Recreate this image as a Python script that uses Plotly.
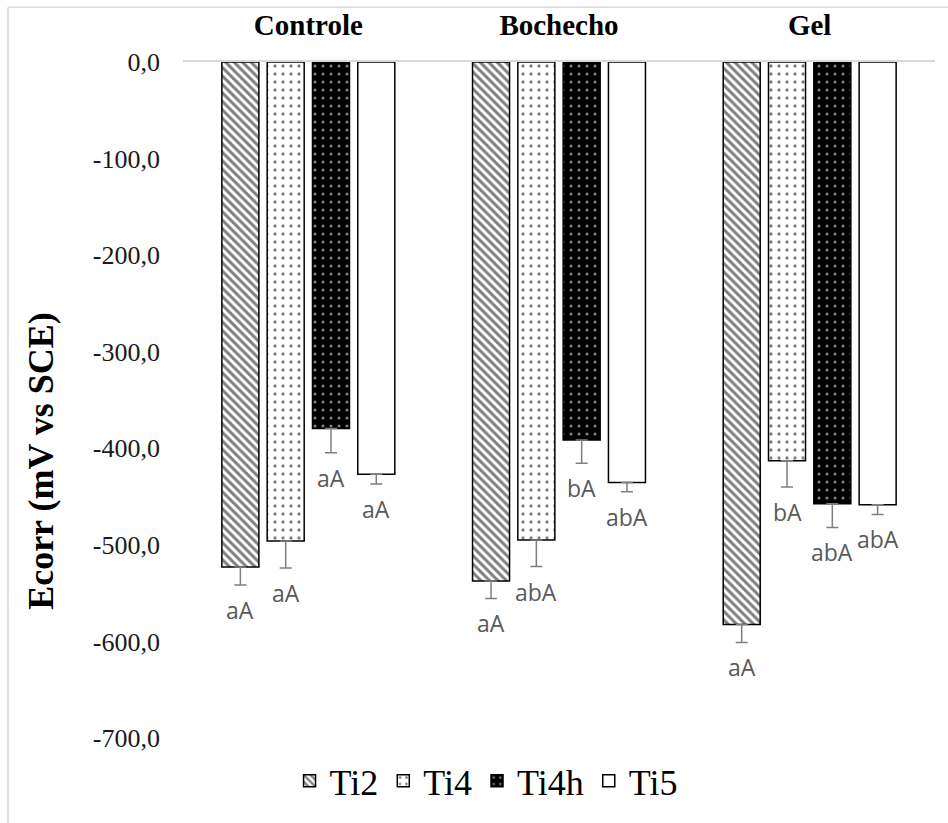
import plotly.graph_objects as go

# Treatments (category axis) and materials (series)
groups = ["Controle", "Bochecho", "Gel"]
series = ["Ti2", "Ti4", "Ti4h", "Ti5"]

# Corrosion potential Ecorr (mV vs SCE), one list per material across groups
ecorr = {
    "Ti2": [-523.0, -537.5, -582.5],
    "Ti4": [-496.0, -495.0, -413.0],
    "Ti4h": [-379.5, -391.5, -457.5],
    "Ti5": [-427.0, -435.5, -458.5],
}
# Standard deviation (drawn downward only)
ecorr_sd = {
    "Ti2": [18.5, 18.0, 18.5],
    "Ti4": [28.0, 27.5, 27.0],
    "Ti4h": [25.0, 24.0, 24.5],
    "Ti5": [10.0, 9.5, 10.0],
}
# Statistical letters
letters = {
    "Ti2": ["aA", "aA", "aA"],
    "Ti4": ["aA", "abA", "bA"],
    "Ti4h": ["aA", "bA", "abA"],
    "Ti5": ["aA", "abA", "abA"],
}

ytick_vals = [0, -100, -200, -300, -400, -500, -600, -700]
ytick_text = ["0,0", "-100,0", "-200,0", "-300,0", "-400,0", "-500,0", "-600,0", "-700,0"]

SERIF = "Liberation Serif"

# Fill styles per material
patterns = {
    "Ti2": dict(color="white", pattern=dict(shape="\\", fgcolor="black", bgcolor="white", size=6, solidity=0.5)),
    "Ti4": dict(color="white", pattern=dict(shape=".", fgcolor="black", bgcolor="white", size=8, solidity=0.13)),
    "Ti4h": dict(color="black", pattern=dict(shape=".", fgcolor="white", bgcolor="black", size=8, solidity=0.12)),
    "Ti5": dict(color="white", pattern=dict(shape="")),
}

BARGAP = 0.277
GROUPGAP = 0.183

fig = go.Figure()
for s in series:
    fig.add_trace(go.Bar(
        name=s,
        x=groups,
        y=ecorr[s],
        marker=dict(line=dict(color="black", width=1.5), **patterns[s]),
        error_y=dict(
            type="data", symmetric=False,
            array=[0] * len(groups), arrayminus=ecorr_sd[s],
            color="#7f7f7f", thickness=1.5, width=6,
        ),
    ))

# Letters placed under each error bar
slot = (1 - BARGAP) / len(series)
annotations = []
for i, s in enumerate(series):
    off = (i - (len(series) - 1) / 2) * slot
    for g in range(len(groups)):
        annotations.append(dict(
            x=g + off, y=ecorr[s][g] - ecorr_sd[s][g],
            xref="x", yref="y", text=letters[s][g], showarrow=False,
            yanchor="top", yshift=-7,
            font=dict(family="Open Sans", size=23, color="#595959"),
        ))

# Y-axis title
annotations.append(dict(
    x=-0.1888, y=0.41, xref="paper", yref="paper",
    text="Ecorr (mV vs SCE)", textangle=-90, showarrow=False,
    xanchor="center", yanchor="middle",
    font=dict(family=SERIF, size=36, color="black", weight="bold"),
))

# Chart-area frame lines
shapes = [
    dict(type="line", xref="paper", yref="paper", x0=-0.2327, x1=-0.2327, y0=1.0811, y1=-0.2,
         line=dict(color="#d9d9d9", width=1.5)),
    dict(type="line", xref="paper", yref="paper", x0=-0.2327, x1=1.03, y0=1.0811, y1=1.0811,
         line=dict(color="#d9d9d9", width=1.5)),
]

fig.update_layout(
    width=948, height=823,
    margin=dict(l=183, r=13, t=62, b=83),
    paper_bgcolor="white", plot_bgcolor="white",
    barmode="group", bargap=BARGAP, bargroupgap=GROUPGAP,
    annotations=annotations, shapes=shapes,
    legend=dict(
        orientation="h", x=0.403, y=-0.0634, xanchor="center", yanchor="middle",
        font=dict(family=SERIF, size=36, color="black"),
        bgcolor="rgba(0,0,0,0)",
    ),
    xaxis=dict(
        side="top", showline=True, linecolor="#d9d9d9", linewidth=1.5,
        ticks="outside", ticklen=14, tickcolor="rgba(0,0,0,0)",
        tickfont=dict(family=SERIF, size=29, color="black", weight="bold"),
        showgrid=False, zeroline=False, automargin=False,
    ),
    yaxis=dict(
        range=[-700, 0], tickvals=ytick_vals, ticktext=ytick_text,
        showgrid=False, zeroline=False, showline=False, ticks="",
        ticklabelstandoff=22, automargin=False,
        tickfont=dict(family=SERIF, size=26, color="#1a1a1a"),
    ),
)

fig.write_html("out.html")
